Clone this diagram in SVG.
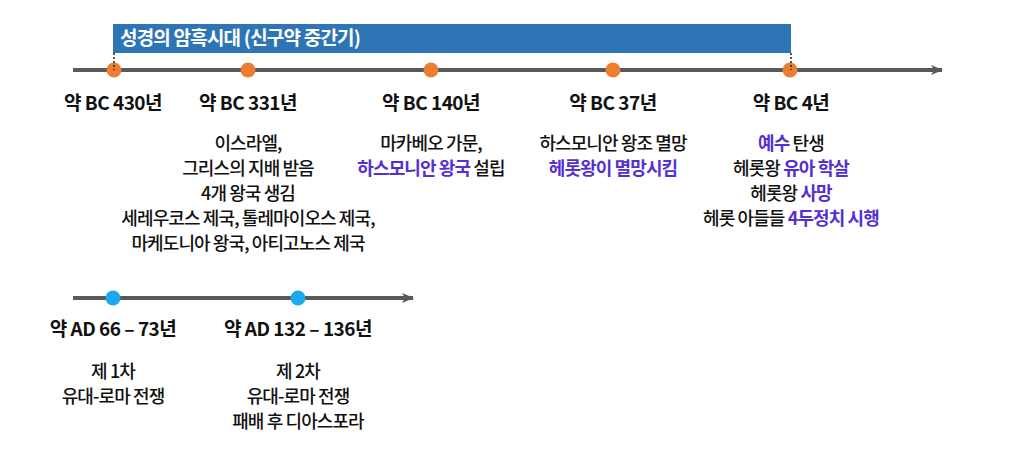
<svg xmlns="http://www.w3.org/2000/svg" width="1024" height="470" viewBox="0 0 1024 470">
<defs>
<marker id="arr" markerWidth="12" markerHeight="12" refX="11" refY="6" orient="auto" markerUnits="userSpaceOnUse" viewBox="0 0 12 12">
<path d="M0,1 L12,6 L0,11 L3,6 Z" fill="#595959"/>
</marker>
<style>
text{font-family:"Noto Sans CJK KR","Noto Sans",sans-serif;font-size:18px;font-weight:500;fill:#111;text-anchor:middle;letter-spacing:-0.9px}
.yr{font-weight:700;font-size:19px;letter-spacing:-0.5px}
.hl{fill:#5530D0;font-weight:700}
.title{fill:#fff;font-weight:700;text-anchor:start;font-size:19px;letter-spacing:-0.8px}
.axis{stroke:#595959;stroke-width:4;fill:none}
.dot{stroke:#222;stroke-width:1.5;stroke-dasharray:2,2}
.od{fill:#ED7D31}
.bd{fill:#1BA8EC}
</style>
</defs>
<g id="era-bar">
<rect x="113" y="24" width="678" height="29" fill="#2E75B6"/>
<text class="title" x="120" y="45">성경의 암흑시대 (신구약 중간기)</text>
</g>
<g id="connectors">
<line class="axis" x1="73" y1="70" x2="942" y2="70" marker-end="url(#arr)"/>
<line class="axis" x1="73" y1="298" x2="413" y2="298" marker-end="url(#arr)"/>
</g>
<g id="bc430">
<circle class="od" cx="114" cy="70" r="7.5"/>
<line class="dot" x1="114" y1="53" x2="114" y2="70"/>
<text class="yr" x="113" y="110">약 BC 430년</text>
</g>
<g id="bc331">
<circle class="od" cx="248" cy="70" r="7.5"/>
<text class="yr" x="248" y="110">약 BC 331년</text>
<text x="248" y="150">이스라엘,</text>
<text x="248" y="175">그리스의 지배 받음</text>
<text x="248" y="200">4개 왕국 생김</text>
<text x="248" y="225">세레우코스 제국, 톨레마이오스 제국,</text>
<text x="248" y="250">마케도니아 왕국, 아티고노스 제국</text>
</g>
<g id="bc140">
<circle class="od" cx="431" cy="70" r="7.5"/>
<text class="yr" x="431" y="110">약 BC 140년</text>
<text x="431" y="150">마카베오 가문,</text>
<text x="431" y="175"><tspan class="hl">하스모니안 왕국</tspan> 설립</text>
</g>
<g id="bc37">
<circle class="od" cx="613" cy="70" r="7.5"/>
<text class="yr" x="613" y="110">약 BC 37년</text>
<text x="613" y="150">하스모니안 왕조 멸망</text>
<text class="hl" x="613" y="175">헤롯왕이 멸망시킴</text>
</g>
<g id="bc4">
<circle class="od" cx="790" cy="70" r="7.5"/>
<line class="dot" x1="791" y1="53" x2="791" y2="70"/>
<text class="yr" x="791" y="110">약 BC 4년</text>
<text x="791" y="150"><tspan class="hl">예수</tspan> 탄생</text>
<text x="791" y="175">헤롯왕 <tspan class="hl">유아 학살</tspan></text>
<text x="791" y="200">헤롯왕 <tspan class="hl">사망</tspan></text>
<text x="791" y="225">헤롯 아들들 <tspan class="hl">4두정치 시행</tspan></text>
</g>
<g id="ad66">
<circle class="bd" cx="113" cy="298" r="7.5"/>
<text class="yr" x="113" y="336">약 AD 66 – 73년</text>
<text x="113" y="378">제 1차</text>
<text x="113" y="403">유대-로마 전쟁</text>
</g>
<g id="ad132">
<circle class="bd" cx="298" cy="298" r="7.5"/>
<text class="yr" x="298" y="336">약 AD 132 – 136년</text>
<text x="298" y="378">제 2차</text>
<text x="298" y="403">유대-로마 전쟁</text>
<text x="298" y="428">패배 후 디아스포라</text>
</g>
</svg>
